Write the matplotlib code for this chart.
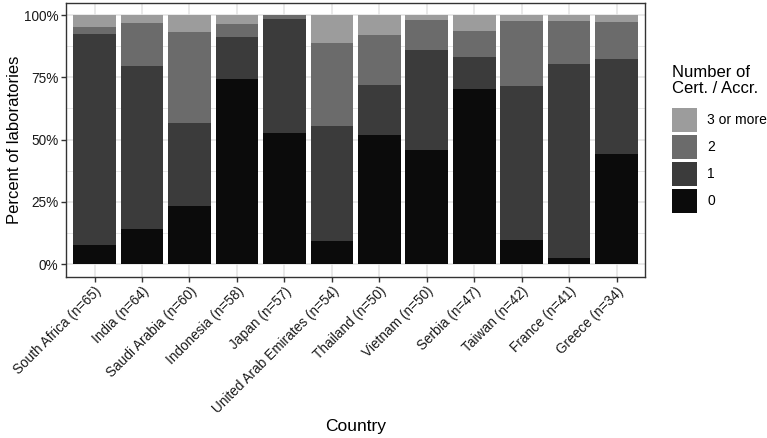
import numpy as np
import matplotlib
matplotlib.use('Agg')
import matplotlib.pyplot as plt
from matplotlib.ticker import FixedLocator

plt.rcParams['font.family'] = ['Liberation Sans', 'DejaVu Sans']

# countries and sample sizes
countries = ['South Africa', 'India', 'Saudi Arabia', 'Indonesia', 'Japan',
             'United Arab Emirates', 'Thailand', 'Vietnam', 'Serbia',
             'Taiwan', 'France', 'Greece']
n_labs = [65, 64, 60, 58, 57, 54, 50, 50, 47, 42, 41, 34]

# number of laboratories by number of certifications / accreditations
cert_0 = [5, 9, 14, 43, 30, 5, 26, 23, 33, 4, 1, 15]
cert_1 = [55, 42, 20, 10, 26, 25, 10, 20, 6, 26, 32, 13]
cert_2 = [2, 11, 22, 3, 1, 18, 10, 6, 5, 11, 7, 5]
cert_3 = [3, 2, 4, 2, 0, 6, 4, 1, 3, 1, 1, 1]

labels = ['0', '1', '2', '3 or more']
colors = ['#0b0b0b', '#3b3b3b', '#6b6b6b', '#9c9c9c']

counts = np.array([cert_0, cert_1, cert_2, cert_3], dtype=float)
totals = np.array(n_labs, dtype=float)
share = counts / totals

fig = plt.figure(figsize=(7.67, 4.38), dpi=100)
ax = fig.add_axes([0.0862, 0.3687, 0.7548, 0.6253])

x = np.arange(len(countries))
bottom = np.zeros(len(countries))
handles = []
for i in range(4):
    b = ax.bar(x, share[i], bottom=bottom, width=0.9, color=colors[i],
               label=labels[i], zorder=3, linewidth=0)
    handles.append(b)
    bottom = bottom + share[i]

ax.set_xlim(-0.6, len(countries) - 0.4)
ax.set_ylim(-0.05, 1.05)

ax.yaxis.set_major_locator(FixedLocator([0, 0.25, 0.5, 0.75, 1.0]))
ax.yaxis.set_minor_locator(FixedLocator([0.125, 0.375, 0.625, 0.875]))
ax.set_yticklabels(['0%', '25%', '50%', '75%', '100%'])
ax.set_xticks(x)
ax.set_xticklabels(['%s (n=%d)' % (c, n) for c, n in zip(countries, n_labs)],
                   rotation=45, ha='right', va='top', rotation_mode='anchor')

ax.grid(True, which='major', color='#e3e3e3', linewidth=1.1, zorder=0)
ax.grid(True, which='minor', axis='y', color='#e3e3e3', linewidth=0.6, zorder=0)
ax.set_axisbelow(True)
for s in ax.spines.values():
    s.set_color('#333333')
    s.set_linewidth(1.0)
ax.tick_params(axis='both', which='major', length=3.5, width=1.0, color='#333333',
               labelsize=9.8, labelcolor='#1a1a1a', pad=2)
ax.tick_params(axis='y', which='minor', length=0)

ax.set_xlabel('Country', fontsize=12.5)
ax.set_ylabel('Percent of laboratories', fontsize=12)
ax.xaxis.set_label_coords(0.5, -0.52)
ax.yaxis.set_label_coords(-0.076, 0.5)

# legend title drawn separately so the gap to the keys matches
fig.text(672 / 767, 1 - 65 / 438, 'Number of\nCert. / Accr.', fontsize=12,
         ha='left', va='top', linespacing=1.1)
leg = fig.legend(handles[::-1], labels[::-1],
                 loc='upper left', bbox_to_anchor=(672 / 767, 1 - 108 / 438),
                 frameon=False, fontsize=10, borderpad=0,
                 handlelength=1.8, handleheight=2.3, labelspacing=0.2,
                 handletextpad=0.72, borderaxespad=0)

fig.savefig('out.png', dpi=100)
